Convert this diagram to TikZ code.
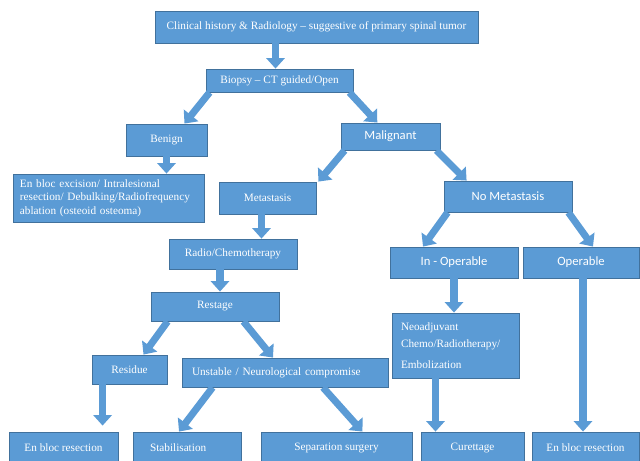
\documentclass[tikz,border=0pt]{standalone}
\usepackage{fontspec}
\setmainfont{Liberation Serif}
\newfontfamily\calfont{Carlito}
\usepackage{tikz}
\usetikzlibrary{arrows.meta}

\definecolor{boxblue}{HTML}{5B9BD5}
\definecolor{boxedge}{HTML}{41719C}

\tikzset{
	box/.style={draw=boxedge, fill=boxblue, text=white, inner sep=0pt, line width=0.6pt,
		font=\fontsize{8}{9.5}\selectfont},
	sbox/.style={box, font=\calfont\fontsize{9}{10}\selectfont},
	blockarrow/.style={color=boxblue, line width=5pt, -{Triangle[width=13pt,length=7.5pt]}}
}

\begin{document}
\begin{tikzpicture}
		\useasboundingbox (0,0) rectangle (16,-11.525);
		\clip (0,0) rectangle (16,-11.525);

		\draw (7.9125,-0.675) node[box, minimum width=8.075cm, minimum height=0.8cm] (top) {Clinical history \& Radiology -- suggestive of primary spinal tumor};
		\draw (6.9875,-2.0125) node[box, minimum width=3.675cm, minimum height=0.575cm] (biopsy) {Biopsy -- CT guided/Open};
		\draw (4.1625,-3.5) node[box, minimum width=2.025cm, minimum height=0.8cm] (benign) {Benign};
		\draw (9.7625,-3.4125) node[sbox, minimum width=2.475cm, minimum height=0.675cm] (malignant) {Malignant};
		\draw (2.7125,-4.95) node[box, minimum width=4.775cm, minimum height=1.2cm, text width=4.425cm, align=left] (excision) {En bloc excision/ Intralesional\\ resection/ Debulking/Radiofrequency\\ ablation (osteoid osteoma)};
		\draw (6.6875,-4.95) node[box, minimum width=2.425cm, minimum height=0.8cm] (metastasis) {Metastasis};
		\draw (12.7,-4.9125) node[sbox, minimum width=3.2cm, minimum height=0.775cm] (nometa) {No Metastasis};
		\draw (5.825,-6.35) node[box, minimum width=3.2cm, minimum height=0.75cm] (radio) {Radio/Chemotherapy};
		\draw (11.35,-6.5625) node[sbox, minimum width=3.2cm, minimum height=0.775cm] (inop) {In - Operable};
		\draw (14.525,-6.5625) node[sbox, minimum width=2.9cm, minimum height=0.775cm] (operable) {Operable};
		\draw (5.375,-7.6625) node[box, minimum width=3.2cm, minimum height=0.725cm] (restage) {Restage};
		\draw (11.3875,-8.6375) node[box, minimum width=3.175cm, minimum height=1.625cm, text width=2.725cm, align=left,
			font=\fontsize{8}{12}\selectfont] (neoadj) {Neoadjuvant\\ Chemo/Radiotherapy/\\[3pt] Embolization\\[2pt]};
		\draw (3.2375,-9.2375) node[box, minimum width=1.875cm, minimum height=0.725cm] (residue) {Residue};
		\draw (7.125,-9.3125) node[box, minimum width=5.15cm, minimum height=0.725cm, text width=4.65cm, align=left] (unstable) {Unstable / Neurological compromise};
		\draw (1.5875,-11.1875) node[box, minimum width=2.725cm, minimum height=0.775cm] (enbloc1) {En bloc resection};
		\draw (4.675,-11.1875) node[box, minimum width=2.7cm, minimum height=0.775cm, text width=1.85cm, align=left] (stab) {Stabilisation};
		\draw (8.4125,-11.1875) node[box, minimum width=3.775cm, minimum height=0.775cm] (separation) {Separation surgery};
		\draw (11.8125,-11.1875) node[box, minimum width=2.575cm, minimum height=0.775cm] (curettage) {Curettage};
		\draw (14.6375,-11.1875) node[box, minimum width=2.675cm, minimum height=0.775cm] (enbloc2) {En bloc resection};

		\path[blockarrow]
			([xshift=-1mm]biopsy.north |- top.south) 	edge 	([xshift=-1mm]biopsy.north)
			([xshift=1mm]biopsy.south west) 		edge 	([xshift=4.5mm]benign.north)
			([xshift=-1mm]biopsy.south east) 		edge 	([xshift=-3.3mm]malignant.north)
			(benign.south) 					edge 	(benign.south |- excision.north)
			([xshift=1mm]malignant.south west) 		edge 	([xshift=0.5mm]metastasis.north east)
			([xshift=-1mm]malignant.south east) 		edge 	([xshift=5.75mm]nometa.north west)
			([xshift=1mm]nometa.south west) 		edge 	([xshift=-7.75mm]inop.north)
			([xshift=-1mm]nometa.south east) 		edge 	([xshift=3mm]operable.north)
			([xshift=-1.5mm]metastasis.south) 		edge 	([xshift=-1.5mm]metastasis.south |- radio.north)
			([xshift=1.25mm]restage.north |- radio.south) 	edge 	([xshift=1.25mm]restage.north)
			([xshift=4.25mm]restage.south west) 		edge 	([xshift=3.5mm]residue.north)
			([xshift=-9mm]restage.south east) 		edge 	([xshift=-3mm]unstable.north)
			([xshift=2.75mm]residue.south west) 		edge 	[shorten >=1.5mm] ([xshift=2.75mm]residue.south west |- enbloc1.north)
			([xshift=7.75mm]unstable.south west) 		edge 	([xshift=-2mm]stab.north)
			([xshift=9.5mm]unstable.south) 			edge 	([xshift=6.5mm]separation.north)
			(inop.south) 					edge 	(inop.south |- neoadj.north)
			([xshift=-5mm]neoadj.south) 			edge 	([xshift=-5mm]neoadj.south |- curettage.north)
			([xshift=0.5mm]operable.south) 			edge 	([xshift=0.5mm]operable.south |- enbloc2.north)
			;
	\end{tikzpicture}
\end{document}
